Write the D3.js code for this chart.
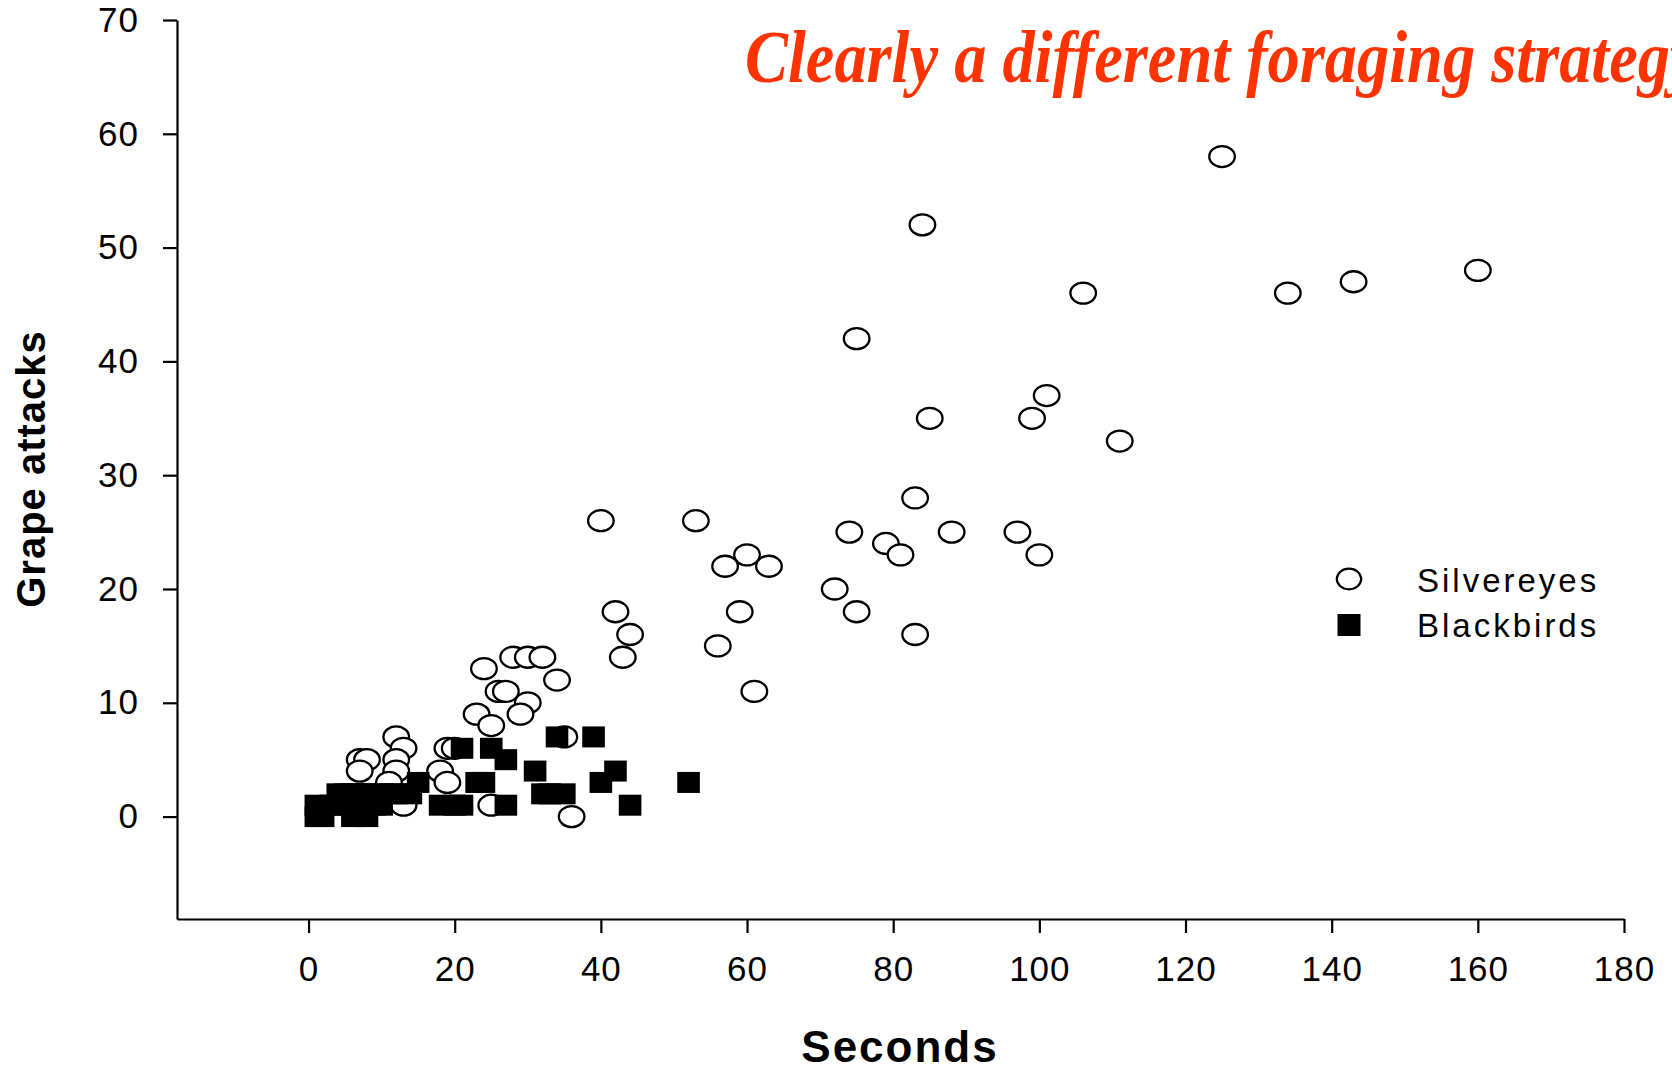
<!DOCTYPE html>
<html>
<head>
<meta charset="utf-8">
<script src="https://cdn.jsdelivr.net/npm/d3@7"></script>
<style>
  html, body { margin: 0; padding: 0; background: #fff; overflow: hidden; }
  svg { display: block; }
</style>
</head>
<body>
<svg id="chart" width="1672" height="1071"></svg>
<script>
// ---------- data ----------
const seriesNames = ["Silvereyes", "Blackbirds"];

const silvereyesSeconds = [125, 84, 106, 134, 143, 160, 75, 85, 99, 101, 111, 83, 40, 53, 74, 88, 97, 79, 81, 100, 60, 57, 63, 72, 59, 75, 42, 44, 83, 56, 43, 61, 36, 24, 28, 30, 32, 34, 26, 27, 30, 29, 23, 25, 35, 19, 20, 18, 19, 12, 13, 7, 8, 12, 7, 12, 11, 13, 25];
const silvereyesAttacks = [58, 52, 46, 46, 47, 48, 42, 35, 35, 37, 33, 28, 26, 26, 25, 25, 25, 24, 23, 23, 23, 22, 22, 20, 18, 18, 18, 16, 16, 15, 14, 11, 0, 13, 14, 14, 14, 12, 11, 11, 10, 9, 9, 8, 7, 6, 6, 4, 3, 7, 6, 5, 5, 5, 4, 4, 3, 1, 1];

const blackbirdsSeconds = [1, 2, 6, 8, 1, 3, 5, 7, 9, 10, 4, 5, 6, 7, 8, 9, 10, 11, 12, 14, 15, 18, 20, 21, 21, 25, 27, 23, 24, 27, 31, 32, 33, 35, 34, 39, 40, 42, 44, 52];
const blackbirdsAttacks = [0, 0, 0, 0, 1, 1, 1, 1, 1, 1, 2, 2, 2, 2, 2, 2, 2, 2, 2, 2, 3, 1, 1, 1, 6, 6, 5, 3, 3, 1, 4, 2, 2, 2, 7, 7, 3, 4, 1, 3];

const xTicks = [0, 20, 40, 60, 80, 100, 120, 140, 160, 180];
const yTicks = [0, 10, 20, 30, 40, 50, 60, 70];
const xDomain = [-18, 180];
const yDomain = [-9, 70];

const titleText = "Clearly a different foraging strategy";
const xLabel = "Seconds";
const yLabel = "Grape attacks";

// ---------- drawing ----------
const svg = d3.select("#chart");
const x = d3.scaleLinear().domain(xDomain).range([177, 1624]);
const y = d3.scaleLinear().domain(yDomain).range([919, 20]);

const tickFont = "'Liberation Sans', Arial, sans-serif";

// X axis
const gx = svg.append("g")
  .attr("transform", `translate(0,${y(yDomain[0])})`)
  .call(d3.axisBottom(x).tickValues(xTicks).tickSize(14).tickSizeOuter(0).tickPadding(23).tickFormat(d3.format("d")));
// Y axis
const gy = svg.append("g")
  .attr("transform", `translate(${x(xDomain[0])},0)`)
  .call(d3.axisLeft(y).tickValues(yTicks).tickSize(14).tickSizeOuter(0).tickPadding(24).tickFormat(d3.format("d")));

[gx, gy].forEach(g => {
  g.select(".domain").attr("stroke", "#000").attr("stroke-width", 2.2);
  g.selectAll(".tick line").attr("stroke", "#000").attr("stroke-width", 2.2);
  g.selectAll(".tick text")
    .attr("fill", "#000")
    .style("font-family", tickFont)
    .style("font-size", "35px")
    .style("letter-spacing", "1px");
});

// Silvereyes (open ellipses)
const silver = silvereyesSeconds.map((s, i) => ({ s, a: silvereyesAttacks[i] }));
svg.append("g").selectAll("ellipse").data(silver).join("ellipse")
  .attr("cx", d => x(d.s))
  .attr("cy", d => y(d.a))
  .attr("rx", 12.8)
  .attr("ry", 10.5)
  .attr("fill", "#fff")
  .attr("stroke", "#000")
  .attr("stroke-width", 2.3);

// Blackbirds (filled squares)
const black = blackbirdsSeconds.map((s, i) => ({ s, a: blackbirdsAttacks[i] }));
svg.append("g").selectAll("rect").data(black).join("rect")
  .attr("x", d => x(d.s) - 11.3)
  .attr("y", d => y(d.a) - 10.5)
  .attr("width", 22.6)
  .attr("height", 21)
  .attr("fill", "#000");

// Legend
const lg = svg.append("g");
lg.append("ellipse").attr("cx", 1349).attr("cy", 579).attr("rx", 12.2).attr("ry", 10.3)
  .attr("fill", "#fff").attr("stroke", "#000").attr("stroke-width", 2.2);
lg.append("rect").attr("x", 1349 - 11.5).attr("y", 625 - 11).attr("width", 23).attr("height", 22).attr("fill", "#000");
lg.selectAll("text").data(seriesNames).join("text")
  .attr("x", 1417)
  .attr("y", (d, i) => [592, 637][i])
  .text(d => d)
  .style("font-family", tickFont)
  .style("font-size", "33px")
  .style("letter-spacing", "3px")
  .attr("fill", "#000");

// Axis titles
svg.append("text")
  .attr("x", 900).attr("y", 1062)
  .attr("text-anchor", "middle")
  .style("font-family", tickFont)
  .style("font-weight", "bold")
  .style("font-size", "44px")
  .style("letter-spacing", "2px")
  .text(xLabel);

svg.append("text")
  .attr("transform", "translate(45,469) rotate(-90)")
  .attr("text-anchor", "middle")
  .style("font-family", tickFont)
  .style("font-weight", "bold")
  .style("font-size", "40px")
  .style("letter-spacing", "1px")
  .text(yLabel);

// Title (cut off at right edge, as in the reference)
svg.append("text")
  .attr("transform", "translate(745,82) scale(0.87,1)")
  .style("font-family", "'Liberation Serif', 'Times New Roman', serif")
  .style("font-weight", "bold")
  .style("font-style", "italic")
  .style("font-size", "74px")
  .attr("fill", "#ff3300")
  .text(titleText);
</script>
</body>
</html>
